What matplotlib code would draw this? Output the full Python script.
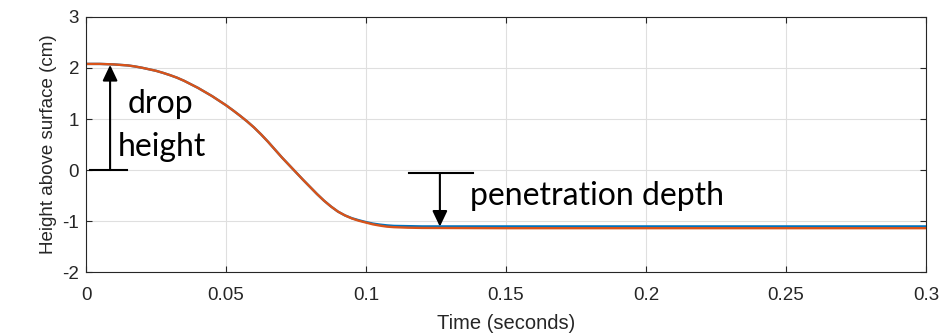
import numpy as np
import matplotlib.pyplot as plt

# values
t = [0, 0.005, 0.01, 0.0125, 0.015, 0.0175, 0.02, 0.0225, 0.025, 0.0275,
     0.03, 0.0325, 0.035, 0.0375, 0.04, 0.0425, 0.045, 0.0475, 0.05,
     0.0525, 0.055, 0.0575, 0.06, 0.0625, 0.065, 0.0675, 0.07, 0.0725,
     0.075, 0.0775, 0.08, 0.0825, 0.085, 0.0875, 0.09, 0.0925, 0.095,
     0.0975, 0.10, 0.1025, 0.105, 0.1075, 0.11, 0.115, 0.12, 0.15, 0.2,
     0.25, 0.3]
h_exp = [2.08, 2.08, 2.07, 2.06, 2.05, 2.03, 2.005, 1.975, 1.945, 1.905,
         1.86, 1.81, 1.75, 1.68, 1.61, 1.53, 1.45, 1.36, 1.27,
         1.17, 1.065, 0.955, 0.835, 0.70, 0.555, 0.40, 0.245, 0.10,
         -0.045, -0.19, -0.33, -0.47, -0.60, -0.715, -0.815, -0.89, -0.95,
         -0.995, -1.03, -1.065, -1.09, -1.11, -1.12, -1.13, -1.135, -1.14,
         -1.14, -1.14, -1.14]
h_sim = [2.08, 2.08, 2.07, 2.06, 2.05, 2.03, 2.005, 1.975, 1.945, 1.905,
         1.86, 1.81, 1.75, 1.68, 1.61, 1.53, 1.45, 1.36, 1.27,
         1.17, 1.065, 0.955, 0.835, 0.70, 0.555, 0.40, 0.245, 0.10,
         -0.045, -0.19, -0.33, -0.47, -0.60, -0.715, -0.815, -0.89, -0.945,
         -0.985, -1.02, -1.05, -1.07, -1.085, -1.095, -1.10, -1.105, -1.105,
         -1.105, -1.105, -1.105]

xticks = [0, 0.05, 0.1, 0.15, 0.2, 0.25, 0.3]
xticklabels = ["0", "0.05", "0.1", "0.15", "0.2", "0.25", "0.3"]
yticks = [-2, -1, 0, 1, 2, 3]

plt.rcParams['font.family'] = ['Liberation Sans', 'DejaVu Sans']
ann_font = ["Lato", "DejaVu Sans"]
ink = "#262626"

fig = plt.figure(figsize=(9.4, 3.33), dpi=100)
ax = fig.add_axes([0.0915, 0.183, 0.8935, 0.766])

ax.plot(t, h_sim, color="#0072BD", lw=1.7)
ax.plot(t, h_exp, color="#D95319", lw=1.7)

ax.set_xlim(0, 0.3)
ax.set_ylim(-2, 3)
ax.set_xticks(xticks)
ax.set_xticklabels(xticklabels)
ax.set_yticks(yticks)
ax.set_yticklabels([str(v) for v in yticks])
ax.grid(True, color="#dfdfdf", lw=0.8)
ax.set_axisbelow(True)
ax.tick_params(direction="in", top=True, right=True, labelsize=13.5,
               length=4, width=0.8, colors=ink)
ax.tick_params(axis="x", pad=11)
ax.tick_params(axis="y", pad=5)
for s in ax.spines.values():
    s.set_color(ink)
    s.set_linewidth(0.8)
ax.set_xlabel("Time (seconds)", fontsize=14.5, color=ink, labelpad=7)
ax.set_ylabel("Height above surface (cm)", fontsize=13.5, color=ink, labelpad=4)

arrow = dict(arrowstyle="-|>,head_width=0.45,head_length=0.95",
             color="k", lw=1.5, shrinkA=0, shrinkB=0)

# drop height annotation
ax.plot([0.0014, 0.0145], [0, 0], color="k", lw=1.5)
ax.annotate("", xy=(0.0086, 2.06), xytext=(0.0086, 0), arrowprops=arrow)
ax.text(0.0265, 1.29, "drop", fontsize=23, family=ann_font,
        ha="center", va="center")
ax.text(0.0113, 0.45, "height", fontsize=23, family=ann_font,
        ha="left", va="center")

# penetration depth annotation
ax.plot([0.1154, 0.1384], [-0.065, -0.065], color="k", lw=1.5)
ax.annotate("", xy=(0.1264, -1.11), xytext=(0.1264, -0.065), arrowprops=arrow)
ax.text(0.1371, -0.51, "penetration depth", fontsize=23,
        family=ann_font, ha="left", va="center")

fig.savefig("out.png", dpi=100)
